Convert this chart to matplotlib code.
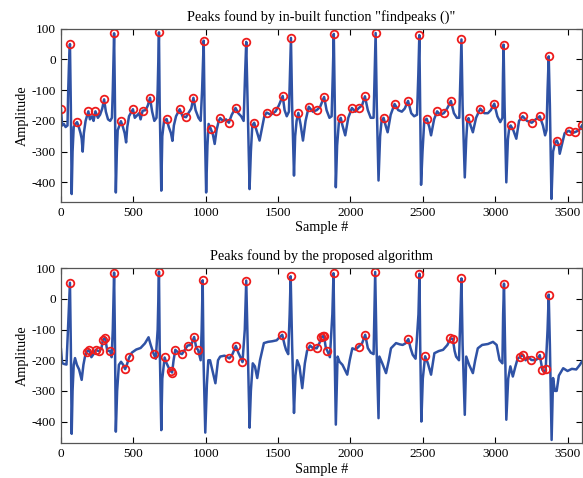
import matplotlib
matplotlib.use("Agg")
import matplotlib.pyplot as plt

# ECG trace vertices (sample #, amplitude)
top_x = [0, 8, 20, 32, 45, 50, 55, 62, 68, 74, 80, 88, 100, 111, 120, 135, 143, 150, 158, 170, 189, 200, 215, 225, 238, 255, 270, 285, 298, 310, 325, 340, 352, 358, 367,
         372, 379, 386, 392, 400, 414, 425, 440, 450, 458, 470, 497, 510, 520, 540, 550, 564, 585, 600, 615, 630, 645, 660, 668, 677,
         682, 693, 700, 712, 730, 745, 760, 770, 780, 795, 820, 840, 864, 880, 900, 915, 930, 950, 965, 975, 986,
         993, 1003, 1012, 1020, 1035, 1050, 1062, 1075, 1090, 1100, 1120, 1140, 1160, 1180, 1206, 1225, 1245, 1262, 1272, 1280,
         1290, 1303, 1312, 1322, 1335, 1350, 1372, 1390, 1405, 1421, 1450, 1483, 1505, 1532, 1545, 1560, 1575, 1582, 1589,
         1597, 1610, 1618, 1628, 1640, 1655, 1672, 1690, 1712, 1740, 1767, 1790, 1818, 1835, 1855, 1870, 1878, 1885,
         1892, 1899, 1908, 1920, 1933, 1945, 1964, 1985, 2010, 2035, 2058, 2080, 2100, 2120, 2140, 2160, 2167, 2174,
         2182, 2194, 2205, 2215, 2229, 2243, 2257, 2278, 2305, 2330, 2355, 2375, 2398, 2420, 2440, 2460, 2469, 2476,
         2482, 2488, 2498, 2510, 2527, 2545, 2557, 2578, 2599, 2620, 2645, 2668, 2694, 2715, 2735, 2752, 2760, 2767,
         2775, 2790, 2800, 2808, 2816, 2830, 2846, 2868, 2897, 2925, 2950, 2970, 2994, 3015, 3035, 3050, 3054, 3058,
         3065, 3077, 3088, 3098, 3107, 3125, 3146, 3165, 3190, 3220, 3253, 3280, 3308, 3330, 3345, 3355, 3362, 3370,
         3378, 3389, 3400, 3415, 3426, 3440, 3446, 3460, 3480, 3509, 3530, 3555, 3580, 3600]
top_y = [-162, -215, -210, -220, -215, -100, -20, 50, -150, -438, -300, -220, -210, -204, -215, -240, -258, -300, -240, -200, -169, -195, -185, -200, -169, -190, -180, -160, -130, -170, -195, -200, -190, -100, 85,
         -100, -433, -300, -230, -220, -201, -215, -240, -270, -220, -185, -162, -190, -185, -175, -195, -167, -165, -150, -125, -170, -200, -190, -100, 88,
         -150, -427, -250, -200, -194, -220, -240, -265, -215, -185, -162, -185, -188, -175, -160, -125, -165, -190, -200, -100, 61,
         -200, -433, -280, -210, -226, -245, -275, -230, -200, -191, -200, -195, -206, -180, -158, -175, -185, -200, -50, 57,
         -150, -422, -300, -215, -206, -230, -264, -220, -185, -173, -180, -169, -150, -119, -165, -185, -170, -50, 70,
         -150, -378, -250, -200, -174, -210, -264, -200, -154, -170, -165, -155, -122, -165, -190, -185, -50, 83,
         -150, -416, -280, -205, -190, -215, -247, -190, -158, -170, -158, -150, -120, -165, -190, -190, -50, 86,
         -150, -394, -250, -200, -190, -215, -237, -180, -145, -165, -170, -160, -135, -175, -185, -180, -50, 79,
         -150, -408, -300, -200, -193, -220, -247, -195, -169, -180, -175, -160, -135, -175, -190, -190, -50, 65,
         -150, -384, -260, -200, -191, -215, -237, -190, -160, -175, -175, -165, -144, -185, -204, -190, -50, 48,
         -150, -400, -260, -220, -215, -230, -258, -200, -185, -200, -206, -195, -185, -215, -247, -230, -100, 10,
         -150, -454, -300, -270, -264, -280, -307, -280, -240, -232, -240, -236, -230, -215]

top_peak_x = [0, 62, 111, 189, 238, 298, 367, 414, 497, 564, 615, 677, 730, 820, 864, 915, 986, 1035, 1100, 1160, 1206,
              1280, 1335, 1421, 1483, 1532, 1589, 1640, 1712, 1767, 1818, 1885, 1933, 2010, 2058, 2100, 2174, 2229, 2305,
              2398, 2476, 2527, 2599, 2645, 2694, 2767, 2816, 2897, 2994, 3058, 3107, 3190, 3253, 3308, 3370, 3426, 3509,
              3555, 3600]
top_peak_y = [-162, 50, -204, -169, -169, -130, 85, -201, -162, -167, -125, 88, -194, -162, -188, -125, 61, -226, -191, -206, -158,
              57, -206, -173, -169, -119, 70, -174, -154, -165, -122, 83, -190, -158, -158, -120, 86, -190, -145,
              -135, 79, -193, -169, -175, -135, 65, -191, -160, -144, 48, -215, -185, -206, -185, 10, -264, -232,
              -236, -215]

bot_x = [0, 8, 20, 38, 48, 55, 62, 68, 74, 80, 88, 97, 110, 125, 143, 155, 165, 178, 194, 210, 225, 240, 265, 280, 289, 305, 320, 339, 350, 358, 367,
         372, 379, 388, 400, 415, 430, 443, 455, 471, 490, 520, 550, 580, 605, 620, 640, 655, 668, 677,
         682, 693, 700, 716, 730, 745, 758, 768, 778, 790, 810, 836, 850, 875, 900, 920, 935, 947, 965, 972, 979,
         985, 997, 1008, 1018, 1030, 1045, 1067, 1085, 1100, 1130, 1164, 1185, 1208, 1225, 1240, 1254, 1270, 1280,
         1290, 1303, 1312, 1325, 1340, 1356, 1375, 1402, 1430, 1460, 1490, 1510, 1529, 1545, 1555, 1570, 1580, 1587,
         1597, 1610, 1620, 1632, 1648, 1667, 1685, 1700, 1721, 1740, 1767, 1785, 1800, 1809, 1817, 1830, 1841, 1858, 1875, 1883,
         1890, 1899, 1911, 1925, 1945, 1978, 1995, 2013, 2035, 2056, 2080, 2102, 2120, 2140, 2160, 2165, 2171,
         2180, 2194, 2200, 2220, 2246, 2265, 2280, 2315, 2340, 2361, 2380, 2400, 2415, 2430, 2450, 2470, 2477,
         2482, 2490, 2500, 2516, 2535, 2557, 2580, 2610, 2640, 2670, 2691, 2707, 2720, 2730, 2750, 2760, 2767,
         2775, 2790, 2800, 2820, 2846, 2862, 2880, 2910, 2950, 2985, 3010, 3030, 3050, 3055, 3061,
         3068, 3077, 3090, 3105, 3122, 3140, 3155, 3169, 3192, 3210, 3230, 3250, 3275, 3295, 3308, 3318, 3326, 3340, 3349, 3362, 3370,
         3378, 3390, 3400, 3412, 3425, 3440, 3470, 3500, 3530, 3560, 3585, 3600]
bot_y = [-164, -209, -212, -214, -100, -20, 53, -150, -440, -300, -215, -193, -215, -230, -264, -215, -190, -172, -166, -190, -180, -166, -171, -160, -134, -126, -170, -169, -190, -100, 86,
         -100, -433, -300, -215, -205, -215, -229, -215, -191, -175, -165, -160, -145, -125, -150, -179, -195, -100, 89,
         -150, -428, -260, -191, -210, -225, -235, -240, -200, -166, -175, -180, -170, -152, -150, -124, -160, -166, -200, -100, 61,
         -200, -436, -280, -200, -200, -230, -275, -200, -188, -185, -194, -180, -153, -175, -190, -206, -100, 60,
         -150, -420, -300, -210, -220, -258, -200, -144, -140, -138, -135, -125, -117, -150, -166, -180, -50, 74,
         -150, -372, -250, -200, -220, -291, -210, -170, -152, -160, -161, -145, -125, -122, -120, -160, -170, -190, -50, 84,
         -150, -410, -188, -205, -215, -247, -200, -161, -165, -156, -145, -117, -160, -175, -180, -50, 88,
         -150, -389, -188, -210, -242, -200, -161, -144, -148, -150, -145, -131, -160, -182, -195, -50, 82,
         -150, -400, -260, -187, -210, -247, -177, -170, -166, -150, -129, -130, -170, -188, -200, -50, 67,
         -150, -378, -188, -215, -242, -200, -161, -150, -147, -140, -150, -199, -210, -50, 50,
         -150, -394, -260, -220, -253, -220, -195, -190, -182, -200, -190, -199, -200, -195, -183, -210, -231, -240, -229, -100, 14,
         -150, -460, -258, -300, -300, -250, -226, -235, -228, -230, -215, -204]

bot_peak_x = [62, 178, 194, 240, 265, 289, 305, 339, 367, 443, 471, 640, 677, 716, 758, 768, 790, 836, 875, 920, 947, 979,
              1164, 1208, 1254, 1280, 1529, 1587, 1721, 1767, 1800, 1809, 1817, 1841, 1883, 2056, 2102, 2171, 2400, 2477,
              2516, 2691, 2707, 2767, 3061, 3169, 3192, 3250, 3308, 3326, 3349, 3370]
bot_peak_y = [53, -172, -166, -166, -171, -134, -126, -169, 86, -229, -191, -179, 89, -191, -235, -240, -166, -180, -152, -124, -166, 61,
              -194, -153, -206, 60, -117, 74, -152, -161, -125, -122, -120, -170, 84, -156, -117, 88, -131, 82,
              -187, -129, -130, 67, 50, -190, -182, -199, -183, -231, -229, 14]

titles = ['Peaks found by in-built function "findpeaks ()"', 'Peaks found by the proposed algorithm']
xticks = [0, 500, 1000, 1500, 2000, 2500, 3000, 3500]
yticks = [-400, -300, -200, -100, 0, 100]

plt.rcParams['font.family'] = ['Liberation Serif', 'DejaVu Serif']
plt.rcParams['axes.unicode_minus'] = False
line_color = '#2f52a5'

fig = plt.figure(figsize=(5.83, 4.78), dpi=100)
ax1 = fig.add_axes([0.1046, 0.578, 0.8937, 0.362])
ax2 = fig.add_axes([0.1046, 0.0732, 0.8937, 0.3655])

panels = [(ax1, top_x, top_y, top_peak_x, top_peak_y, -463),
          (ax2, bot_x, bot_y, bot_peak_x, bot_peak_y, -470)]

for i, (ax, sx, sy, px, py, ymin) in enumerate(panels):
    ax.plot(sx, sy, color=line_color, lw=1.8, solid_joinstyle='round')
    ax.plot(px, py, 'o', mfc='none', mec='#ee1c1c', ms=5.5, mew=1.3)
    ax.set_xlim(0, 3600)
    ax.set_ylim(ymin, 100)
    ax.set_xticks(xticks)
    ax.set_yticks(yticks)
    ax.tick_params(direction='in', top=True, right=True, length=4, labelsize=9.5, width=0.8)
    for sp in ax.spines.values():
        sp.set_color('#555555')
        sp.set_linewidth(0.9)
    ax.set_title(titles[i], fontsize=10.3, pad=6)
    ax.set_xlabel('Sample #', fontsize=10.3, labelpad=2)
    ax.set_ylabel('Amplitude', fontsize=10.3, labelpad=2)

fig.savefig('out.png', dpi=100)
